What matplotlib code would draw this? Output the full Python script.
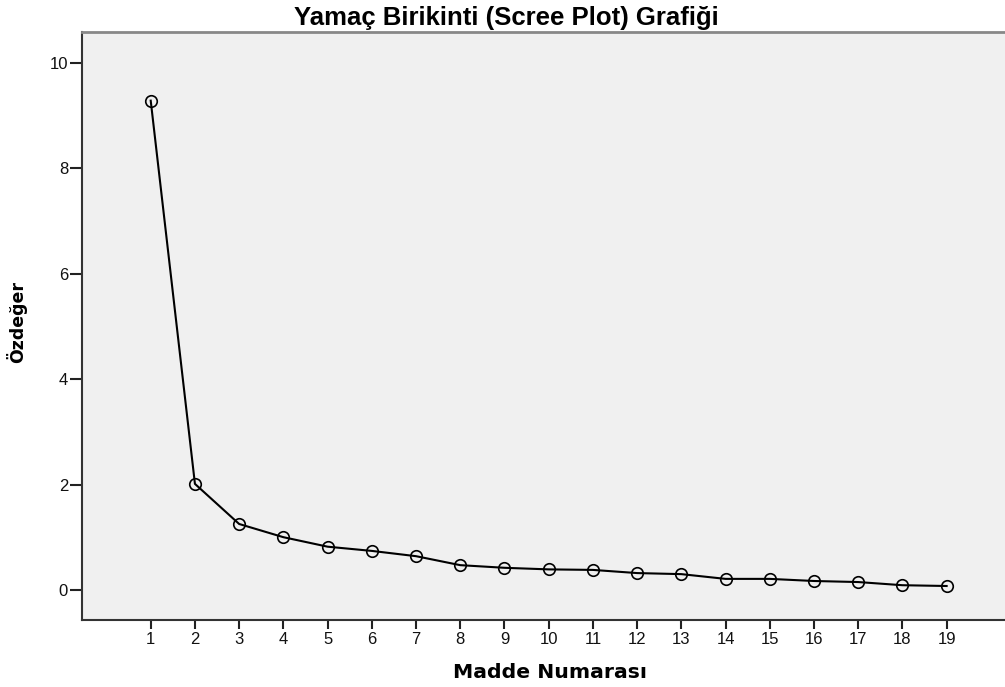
import matplotlib
matplotlib.use("Agg")
import matplotlib.pyplot as plt

components = list(range(1, 20))
eigenvalues = [9.28, 2.02, 1.26, 1.01, 0.83, 0.75, 0.65, 0.48, 0.43, 0.40,
               0.39, 0.33, 0.31, 0.22, 0.22, 0.18, 0.16, 0.10, 0.085]
yticks = [0, 2, 4, 6, 8, 10]
title = "Yamaç Birikinti (Scree Plot) Grafiği"
xlabel = "Madde Numarası"
ylabel = "Özdeğer"

W, H = 1005, 687
fig = plt.figure(figsize=(W / 100, H / 100), dpi=100)
fig.patch.set_facecolor("white")
ax = fig.add_axes([82 / W, (H - 620) / H, (1005 - 82) / W, (620 - 31.5) / H])
ax.set_facecolor("#F0F0F0")

ax.plot(components, eigenvalues, color="black", lw=1.5, marker="o",
        markersize=8.3, markerfacecolor="none", markeredgecolor="black",
        markeredgewidth=1.2, zorder=3)

ax.set_xlim(-0.554, 20.32)
ax.set_ylim(-0.559, 10.59)
ax.set_xticks(components)
ax.set_yticks(yticks)
ax.tick_params(axis="y", direction="out", length=9, width=1.5,
               color="#222222", labelsize=12, pad=1)
ax.tick_params(axis="x", direction="out", length=6.5, width=1.5,
               color="#222222", labelsize=12, pad=2.5)
for lab in ax.get_xticklabels() + ax.get_yticklabels():
    lab.set_family("Liberation Sans")
    lab.set_color("#111111")

for side in ["left", "bottom"]:
    ax.spines[side].set_color("#333333")
    ax.spines[side].set_linewidth(1.5)
ax.spines["top"].set_color("#888888")
ax.spines["top"].set_linewidth(2)
ax.spines["right"].set_visible(False)

fig.text(506 / W, 1 - 25 / H, title, fontsize=18.5, fontweight="bold",
         family="Liberation Sans", ha="center", va="baseline")
fig.text(549.7 / W, 1 - 678 / H, xlabel, fontsize=14.7, fontweight="bold",
         family="DejaVu Sans", ha="center", va="baseline")
fig.text(17 / W, 1 - 322 / H, ylabel, fontsize=12.5, fontweight="bold",
         family="DejaVu Sans", ha="center", va="center", rotation=90)

fig.savefig("out.png", dpi=100)
